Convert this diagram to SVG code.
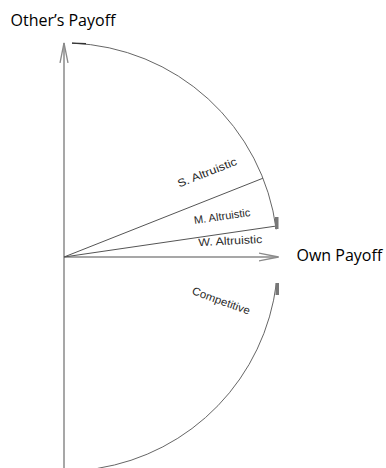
<svg xmlns="http://www.w3.org/2000/svg" width="386" height="468" viewBox="0 0 386 468">
<style>
.axis{stroke:#8a8a8a;stroke-width:1.5;fill:none}
.arc{stroke:#666;stroke-width:1;fill:none}
.ray{stroke:#555;stroke-width:1;fill:none}
.lbl{font-family:"Liberation Sans",Arial,sans-serif;font-size:11px;fill:#2a2a2a;text-anchor:middle}
.ttl{font-family:"Open Sans","Liberation Sans",sans-serif;font-size:16px;fill:#000}
.mark{fill:#777}
</style>
<defs>
<marker id="chev" markerUnits="userSpaceOnUse" markerWidth="24" markerHeight="12" refX="20" refY="6" orient="auto">
<path d="M0,2 L20,6 L0,10" fill="none" stroke="#8a8a8a" stroke-width="1.3"/>
</marker>
</defs>
<rect width="386" height="468" fill="#fff"/>
<g id="connectors">
<line class="axis" x1="64" y1="468" x2="64" y2="43" marker-end="url(#chev)"/>
<line class="axis" x1="64" y1="257" x2="278.5" y2="257" marker-end="url(#chev)"/>
<line class="ray" x1="64" y1="257" x2="263" y2="178.2"/>
<line class="ray" x1="64" y1="257" x2="275.8" y2="226.1"/>
</g>
<g id="arc-upper">
<path class="arc" d="M72,43.15 A214,214 0 0 1 276.2,229.4"/>
<path d="M72,43.15 L86,43.6" stroke="#333" stroke-width="1.2" fill="none"/>
<rect class="mark" x="275" y="217" width="3.5" height="12"/>
</g>
<g id="arc-lower">
<path class="arc" d="M276.4,283.1 A214,214 0 0 1 97.5,468.4"/>
<rect class="mark" x="275.5" y="283" width="3.5" height="12"/>
</g>
<g id="label-s">
<text class="lbl" x="208.5" y="176" textLength="63" lengthAdjust="spacingAndGlyphs" transform="rotate(-21.6 208.5 176)">S. Altruistic</text>
</g>
<g id="label-m">
<text class="lbl" x="222.6" y="220" textLength="57" lengthAdjust="spacingAndGlyphs" transform="rotate(-8.3 222.6 220)">M. Altruistic</text>
</g>
<g id="label-w">
<text class="lbl" x="230.5" y="244.5" textLength="64" lengthAdjust="spacingAndGlyphs" transform="rotate(-3 230.5 244.5)">W. Altruistic</text>
</g>
<g id="label-c">
<text class="lbl" x="219.8" y="304.3" textLength="61" lengthAdjust="spacingAndGlyphs" transform="rotate(20 219.8 304.3)">Competitive</text>
</g>
<g id="title-other">
<text class="ttl" x="10.5" y="25.7">Other’s Payoff</text>
</g>
<g id="title-own">
<text class="ttl" x="296.5" y="260.7">Own Payoff</text>
</g>
</svg>
